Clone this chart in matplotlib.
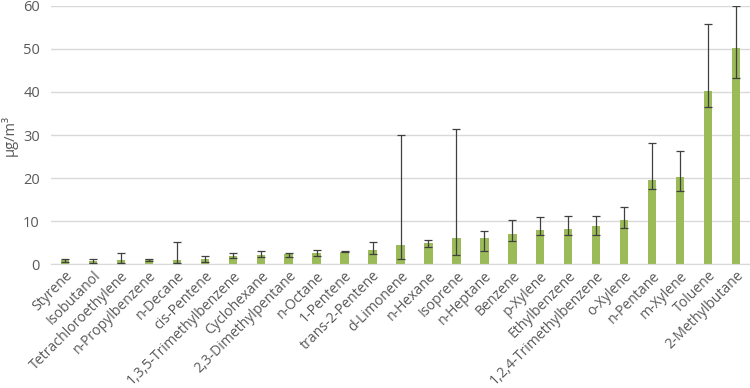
import numpy as np
import matplotlib
matplotlib.use("Agg")
import matplotlib.pyplot as plt

# compounds sorted by mean concentration
compounds = ["Styrene", "Isobutanol", "Tetrachloroethylene", "n-Propylbenzene",
             "n-Decane", "cis-Pentene", "1,3,5-Trimethylbenzene", "Cyclohexane",
             "2,3-Dimethylpentane", "n-Octane", "1-Pentene", "trans-2-Pentene",
             "d-Limonene", "n-Hexane", "Isoprene", "n-Heptane", "Benzene",
             "p-Xylene", "Ethylbenzene", "1,2,4-Trimethylbenzene", "o-Xylene",
             "n-Pentane", "m-Xylene", "Toluene", "2-Methylbutane"]
means = [0.9, 0.8, 0.9, 1.1, 1.0, 1.1, 1.8, 2.1, 2.3, 2.7, 2.9, 3.2,
         4.5, 5.0, 6.0, 6.0, 7.0, 8.0, 8.1, 8.9, 10.3, 19.6, 20.2, 40.3, 50.3]
err_low = [0.6, 0.4, 0.4, 0.8, 0.4, 0.5, 1.4, 1.6, 1.7, 1.9, 2.8, 2.4,
           1.1, 3.9, 2.2, 3.0, 5.4, 6.7, 6.7, 6.7, 8.4, 17.5, 17.0, 36.6, 43.3]
err_high = [1.1, 1.3, 2.5, 1.3, 5.1, 1.8, 2.5, 3.0, 2.5, 3.3, 3.0, 5.2,
            30.0, 5.6, 31.5, 7.7, 10.2, 10.9, 11.2, 11.2, 13.3, 28.1, 26.4, 55.7, 60.0]

plt.rcParams["font.family"] = ["Open Sans", "DejaVu Sans"]

fig = plt.figure(figsize=(7.5, 3.88), dpi=100)
ax = fig.add_axes([0.068, 0.319, 0.932, 0.666])

x = np.arange(len(compounds))
means = np.array(means)
yerr = [means - np.array(err_low), np.array(err_high) - means]

ax.bar(x, means, width=0.3, color="#9BBB59", zorder=2)
ax.errorbar(x, means, yerr=yerr, fmt="none", ecolor="#404040",
            elinewidth=0.9, capsize=3, capthick=0.9, zorder=3)

ax.set_xlim(-0.5, len(compounds) - 0.5)
ax.set_ylim(0, 60)
ax.set_yticks(range(0, 61, 10))
ax.yaxis.grid(True, color="#d9d9d9", linewidth=1, zorder=0)
ax.set_axisbelow(True)

for s in ["top", "right", "left"]:
    ax.spines[s].set_visible(False)
ax.spines["bottom"].set_color("#d9d9d9")

ax.tick_params(axis="x", length=0, colors="#595959", labelsize=10.1, pad=3)
ax.tick_params(axis="y", length=0, colors="#595959", labelsize=10.5, pad=8)
ax.set_xticks(x)
ax.set_xticklabels(compounds, rotation=45, ha="right", rotation_mode="anchor")
ax.set_ylabel("µg/m³", color="#595959", fontsize=10.5, labelpad=4)

plt.savefig("out.png")
